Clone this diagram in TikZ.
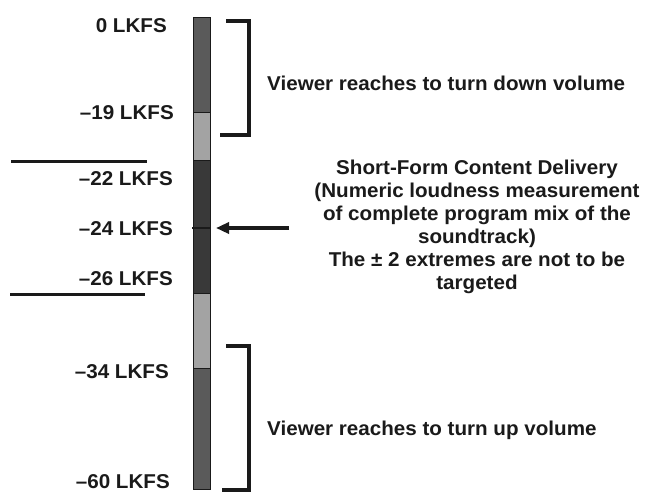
\documentclass[tikz,border=0pt]{standalone}
\usepackage{fontspec}
\setmainfont[FakeStretch=1.03]{Liberation Sans}
\usetikzlibrary{arrows.meta}
\definecolor{segdark}{HTML}{5A5A5A}
\definecolor{seglight}{HTML}{A3A3A3}
\definecolor{segmid}{HTML}{393939}
\definecolor{inkc}{HTML}{1A1A1A}
\begin{document}
\begin{tikzpicture}[x=1pt,y=-1pt,
  txt/.style={inner sep=0pt, text=inkc, font=\fontsize{20}{23}\selectfont\bfseries},
  lbl/.style={txt, anchor=base east},
  seg/.style={draw=inkc, line width=0.8pt, minimum width=16.5pt, inner sep=0pt, anchor=north west},
  brk/.style={draw=inkc, line width=4pt},
  rule/.style={draw=inkc, line width=3pt}]
\useasboundingbox[fill=white] (0,0) rectangle (655,499);
% bar segments
\node[seg, fill=segdark,  minimum height=95pt]  (s1) at (193,17)  {};
\node[seg, fill=seglight, minimum height=48pt]  (s2) at (193,112) {};
\node[seg, fill=segmid,   minimum height=133pt] (s3) at (193,160) {};
\node[seg, fill=seglight, minimum height=75pt]  (s4) at (193,293) {};
\node[seg, fill=segdark,  minimum height=121pt] (s5) at (193,368) {};
% -24 mark
\coordinate (m1) at (192,228);
\coordinate (m2) at (211,228);
\draw[inkc, line width=2.5pt] (m1) -- (m2);
% labels
\node[lbl] (l0)  at (167,32)  {0 LKFS};
\node[lbl] (l19) at (174,119) {–19 LKFS};
\node[lbl] (l22) at (173,185) {–22 LKFS};
\node[lbl] (l24) at (173,235) {–24 LKFS};
\node[lbl] (l26) at (173,285) {–26 LKFS};
\node[lbl] (l34) at (169,378) {–34 LKFS};
\node[lbl] (l60) at (170,488) {–60 LKFS};
% horizontal rules
\coordinate (r1a) at (11,161);  \coordinate (r1b) at (147,161);
\coordinate (r2a) at (10,294);  \coordinate (r2b) at (145,294);
\draw[rule] (r1a) -- (r1b);
\draw[rule] (r2a) -- (r2b);
% brackets
\coordinate (b1a) at (226,20.5); \coordinate (b1b) at (249,20.5);
\coordinate (b1c) at (249,135);  \coordinate (b1d) at (220,135);
\draw[brk] (b1a) -- (b1b) -- (b1c) -- (b1d);
\coordinate (b2a) at (226,346); \coordinate (b2b) at (249,346);
\coordinate (b2c) at (249,489.5);  \coordinate (b2d) at (222,489.5);
\draw[brk] (b2a) -- (b2b) -- (b2c) -- (b2d);
% right texts
\node[txt, anchor=base west] (tdown) at (267,90) {Viewer reaches to turn down volume};
\node[txt, anchor=base west] (tup) at (267,435) {Viewer reaches to turn up volume};
\node[txt, anchor=north, align=center] (tmid) at (477,160)
  {Short-Form Content Delivery\\(Numeric loudness measurement\\of complete program mix of the\\soundtrack)\\The ± 2 extremes are not to be\\targeted};
% arrow
\coordinate (a0) at (289,228);
\draw[inkc, line width=3.2pt, -{Triangle[length=13pt,width=11pt]}] (a0) -- (216,228);
\end{tikzpicture}
\end{document}
